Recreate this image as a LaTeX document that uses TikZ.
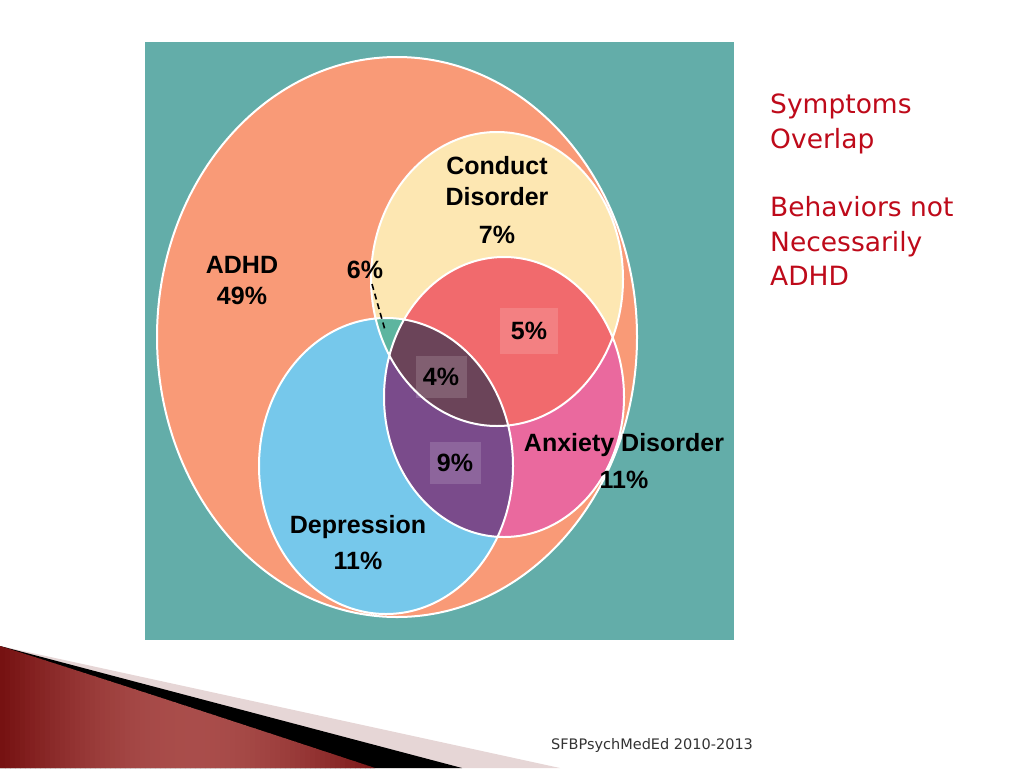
\documentclass[tikz,border=0pt]{standalone}
\usepackage{fontspec}
\usepackage{tikz}
\setmainfont{DejaVu Sans}
\newfontfamily\labelfont{Liberation Sans}
\definecolor{tealbg}{HTML}{63ADA9}
\definecolor{adhdc}{HTML}{F99A77}
\definecolor{conductc}{HTML}{FDE7B2}
\definecolor{anxietyc}{HTML}{EA699E}
\definecolor{depressc}{HTML}{76C8EB}
\definecolor{cdanxc}{HTML}{F16A6D}
\definecolor{depanxc}{HTML}{7A4B8B}
\definecolor{cddepc}{HTML}{5DB59F}
\definecolor{allc}{HTML}{6B4459}
\definecolor{notered}{HTML}{BE0A1A}
\definecolor{bandpink}{HTML}{E6D6D6}
\definecolor{swdark}{HTML}{761212}
\definecolor{swlight}{HTML}{B65C59}
\newcommand*{\pct}[1]{#1\%}

\begin{document}
\begin{tikzpicture}[x=1pt,y=-1pt]
      \useasboundingbox (0,0) rectangle (1024,768);
      \fill[tealbg] (145,42) rectangle (734,640);

      % the four sets
      \fill[adhdc] (397,337) ellipse [x radius=240pt, y radius=280pt];
      \fill[conductc] (497,279) ellipse [x radius=126pt, y radius=147pt];
      \fill[anxietyc] (504,397) ellipse [x radius=120pt, y radius=140pt];
      \fill[depressc] (386,466) ellipse [x radius=127pt, y radius=148pt];

      % overlaps
      \begin{scope}
        \clip (497,279) ellipse [x radius=126pt, y radius=147pt];
        \fill[cdanxc] (504,397) ellipse [x radius=120pt, y radius=140pt];
        \fill[cddepc] (386,466) ellipse [x radius=127pt, y radius=148pt];
      \end{scope}
      \begin{scope}
        \clip (386,466) ellipse [x radius=127pt, y radius=148pt];
        \fill[depanxc] (504,397) ellipse [x radius=120pt, y radius=140pt];
        \clip (497,279) ellipse [x radius=126pt, y radius=147pt];
        \fill[allc] (504,397) ellipse [x radius=120pt, y radius=140pt];
      \end{scope}

      \draw[white, line width=2pt]
        (397,337) ellipse [x radius=240pt, y radius=280pt]
        (497,279) ellipse [x radius=126pt, y radius=147pt]
        (504,397) ellipse [x radius=120pt, y radius=140pt]
        (386,466) ellipse [x radius=127pt, y radius=148pt];

      {\tikzstyle{every node}=[font=\labelfont\bfseries\fontsize{25}{31}\selectfont, align=center, inner sep=0pt]
        \node (adhd) at (242,281) {ADHD\\\pct{49}};
        \node (conduct) at (497,200) {Conduct\\Disorder\\[7pt]\pct{7}};
        \node (anxiety) at (624,461) {Anxiety Disorder\\[6pt]\pct{11}};
        \node (depress) at (358,543) {Depression\\[5pt]\pct{11}};
        \node (six) at (365,270) {\pct{6}};
        \foreach \name/\x/\y/\w/\h/\val in {five/529/331/58/46/5, four/441/377/51/42/4, nine/455/463/51/42/9}
        {
          \node[fill=white, fill opacity=0.15, text opacity=1,
            minimum width=\w pt, minimum height=\h pt] (\name) at (\x,\y) {\pct{\val}};
        }
      }

      \coordinate (wedge) at (385,330);
      \draw[dash pattern=on 6pt off 4pt, line width=1.6pt] (six.south) ++(7,5) -- (wedge);

      \node[anchor=north west, align=left, inner sep=0pt, text=notered,
        font=\fontsize{26.5}{34.3}\selectfont] (note) at (770,94)
        {Symptoms\\Overlap\\[34.3pt]Behaviors not\\Necessarily\\ADHD};

      % slide swoosh
      \fill[bandpink] (0,646) -- (560,768) -- (0,768) -- cycle;
      \fill[black] (0,646) -- (462,768) -- (0,768) -- cycle;
      \begin{scope}
        \clip (0,646) .. controls (120,684) and (260,730) .. (375,768) -- (0,768) -- cycle;
        \foreach \i in {0,...,76}
        {
          \pgfmathsetmacro\mix{80*sin(\i*2.35)}
          \fill[swlight!\mix!swdark] (\i*5,640) rectangle ++(6,130);
        }
      \end{scope}

      \node[text=black!80, font=\fontsize{14.5}{17}\selectfont] (credit) at (652,745)
        {SFBPsychMedEd 2010-2013};
    \end{tikzpicture}
\end{document}
